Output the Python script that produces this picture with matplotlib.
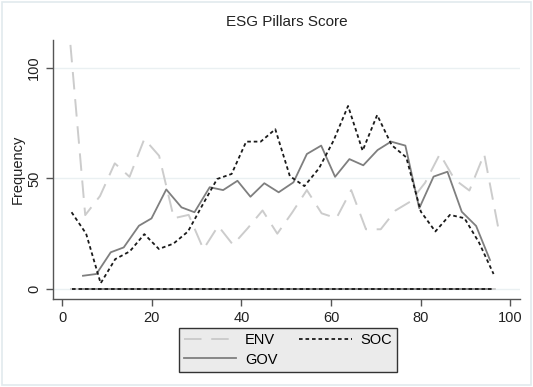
import matplotlib
matplotlib.use("Agg")
import matplotlib.pyplot as plt
from matplotlib.patches import Rectangle

plt.rcParams['font.family'] = ['Liberation Sans', 'DejaVu Sans']

# Frequency polygons (bin midpoint, frequency)
env_x = [1.8, 5.1, 8.4, 11.7, 15.0, 18.3, 21.6, 24.9, 28.2, 31.5, 34.8, 38.1, 41.4, 44.7, 48.0,
         51.3, 54.6, 57.9, 61.2, 64.5, 67.8, 71.1, 74.4, 77.7, 81.0, 84.3, 87.6, 90.9, 94.2, 97.5]
env_y = [110.3, 33.4, 42, 56.8, 50.7, 67.8, 60.2, 32, 33.5, 18, 28.5, 20, 27.5, 35.5, 25,
         34.5, 44.7, 34.2, 32, 44.7, 27, 27, 35.5, 39.5, 48, 61, 49.5, 44.5, 61, 26]

soc_x = [2.05, 5.3, 8.55, 11.8, 15.05, 18.3, 21.55, 24.8, 28.05, 31.3, 34.55, 37.8, 41.05, 44.3, 47.55,
         50.8, 54.05, 57.3, 60.55, 63.8, 67.05, 70.3, 73.55, 76.8, 80.05, 83.3, 86.55, 89.8, 93.05, 96.3]
soc_y = [34.7, 25, 2.6, 13.5, 17, 24.8, 18.1, 20.5, 26, 38, 49.7, 52, 66.6, 66.6, 72.2,
         51, 46.5, 54.5, 67, 82.7, 62.5, 78.6, 65, 59.5, 35, 26, 33.5, 32, 21, 6.8]

gov_x = [4.6, 7.6, 10.8, 13.7, 17.1, 19.9, 23.2, 26.6, 29.5, 32.9, 35.9, 39.1, 42.0, 45.1, 48.3,
         51.6, 54.6, 57.8, 60.9, 64.1, 67.2, 70.4, 73.4, 76.6, 79.7, 82.9, 86.0, 89.2, 92.4, 95.5]
gov_y = [6.0, 6.8, 16.6, 18.8, 28.6, 31.9, 45.0, 36.9, 34.7, 46.0, 44.7, 48.9, 41.7, 47.8, 43.7,
         48.2, 61.0, 64.8, 50.7, 58.7, 55.9, 62.8, 66.6, 64.8, 36.5, 50.8, 53.0, 34.9, 28.5, 13.1]

fig = plt.figure(figsize=(5.33, 3.87), dpi=100)
fig.patches.append(Rectangle((0.004, 0.004), 0.992, 0.992, transform=fig.transFigure,
                             fill=False, edgecolor='#e2eaee', linewidth=1.2))
ax = fig.add_axes([0.0994, 0.2274, 0.8762, 0.6692])

for yv in [0, 50, 100]:
    ax.axhline(yv, color='#eaf0f2', linewidth=1.0, zorder=0)

env_style = dict(color='#cccccc', linewidth=1.4, dashes=(9, 5))
soc_style = dict(color='#1a1a1a', linewidth=1.3, dashes=(2, 1.6))
gov_style = dict(color='#7f7f7f', linewidth=1.3)

# zero baselines of each polygon
ax.plot([min(env_x), max(env_x)], [0, 0], **env_style)
ax.plot([min(gov_x), max(gov_x)], [0, 0], **gov_style)
ax.plot([min(soc_x), max(soc_x)], [0, 0], **soc_style)

l_env, = ax.plot(env_x, env_y, label='ENV', **env_style)
l_gov, = ax.plot(gov_x, gov_y, label='GOV', **gov_style)
l_soc, = ax.plot(soc_x, soc_y, label='SOC', **soc_style)

ax.set_xlim(-2.1, 102.2)
ax.set_ylim(-4.5, 112.5)
ax.set_xticks([0, 20, 40, 60, 80, 100])
ax.set_yticks([0, 50, 100])
ax.set_yticklabels(['0', '50', '100'], rotation=90, va='center')

for s in ['top', 'right']:
    ax.spines[s].set_visible(False)
for s in ['left', 'bottom']:
    ax.spines[s].set_color('#555555')
    ax.spines[s].set_linewidth(1.0)
ax.tick_params(colors='#555555', labelcolor='#222222', labelsize=10.5, length=5, width=1.0)

ax.set_ylabel('Frequency', fontsize=10.5, color='#222222', labelpad=2)
ax.set_title('ESG Pillars Score', fontsize=11, color='#222222', pad=10)

# column-major fill: ENV/GOV in first column, SOC in second
leg = fig.legend([l_env, l_gov, l_soc], ['ENV', 'GOV', 'SOC'], ncol=2,
                 loc='center', bbox_to_anchor=(288 / 533, 1 - 350 / 387),
                 fontsize=10.5, handlelength=3.6, handletextpad=0.6, columnspacing=1.5,
                 labelspacing=0.35, borderpad=0.35, fancybox=False,
                 frameon=True, edgecolor='#333333', facecolor='#ebebeb', framealpha=1)
leg.get_frame().set_linewidth(1.0)

fig.savefig('out.png', dpi=100)
